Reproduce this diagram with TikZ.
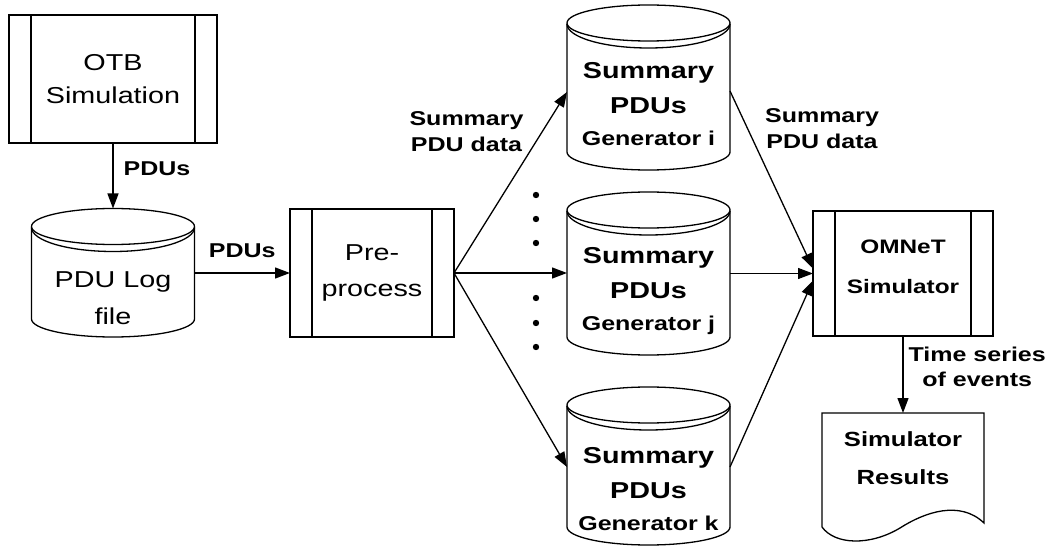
\documentclass[tikz,border=0pt]{standalone}
\usepackage{fontspec}
\setmainfont{Liberation Sans}[FakeStretch=1.25]
\usetikzlibrary{arrows.meta}

\tikzset{
  flow/.style = {-{Triangle[length=15pt, width=11pt]}},
  proc/.style = {draw, minimum width=#1, align=center, inner sep=0pt, outer sep=0pt,
    path picture = {
      \draw ([xshift=22pt]path picture bounding box.north west) -- ([xshift=22pt]path picture bounding box.south west);
      \draw ([xshift=-22pt]path picture bounding box.north east) -- ([xshift=-22pt]path picture bounding box.south east);
    }},
  store/.style = {minimum width=163pt, minimum height=#1, align=center, inner sep=0pt, outer sep=0pt},
  lbl/.style = {font=\fontsize{20}{26}\selectfont\bfseries, align=center, inner sep=2pt},
}

% cylinder round a store node: #1 node, #2 depth of the bottom below its centre
\newcommand{\drawstore}[2]{%
  \draw ([yshift=-18pt]#1.north west) -- ([yshift=18pt-#2]#1.west)
    arc[start angle=180, end angle=360, x radius=81.5pt, y radius=18pt]
    -- ([yshift=-18pt]#1.north east)
    arc[start angle=0, end angle=360, x radius=81.5pt, y radius=18pt];
  \draw ([yshift=-19pt]#1.north west)
    arc[start angle=180, end angle=360, x radius=81.5pt, y radius=24pt];
}

\begin{document}
\begin{tikzpicture}[x = 1pt, y = 1pt, line width = 1.3pt]
\useasboundingbox (0,0) rectangle (1053,-548);

\node[proc=208pt, minimum height=128pt, font=\fontsize{23}{33}\selectfont] (otb) at (113,-79) {OTB\\Simulation};
\node[store=180pt, font=\fontsize{23}{37}\selectfont] (log) at (113,-298.5) {PDU Log\\file};
\drawstore{log}{38.5pt}
\node[proc=164pt, minimum height=128pt, font=\fontsize{23}{36}\selectfont] (prep) at (372,-273) {Pre-\\process};

\node[store=198pt, font=\fontsize{23}{35}\selectfont\bfseries] (geni) at (648.5,-104) {Summary\\PDUs\\[-3pt]{\fontsize{20}{24}\selectfont Generator i}};
\drawstore{geni}{66pt}
\node[store=198pt, font=\fontsize{23}{35}\selectfont\bfseries] (genj) at (648.5,-291) {Summary\\PDUs\\[-3pt]{\fontsize{20}{24}\selectfont Generator j}};
\drawstore{genj}{64pt}
\node[store=204pt, font=\fontsize{23}{35}\selectfont\bfseries] (genk) at (648.5,-489) {Summary\\PDUs\\[-3pt]{\fontsize{20}{24}\selectfont Generator k}};
\drawstore{genk}{56pt}

\node[proc=180pt, minimum height=125pt, text depth=13pt, font=\fontsize{19.5}{40}\selectfont\bfseries] (omnet) at (903,-273.5) {OMNeT\\Simulator};
\node[minimum width=162pt, minimum height=90pt, align=center, inner sep=0pt, outer sep=0pt,
  font=\fontsize{20.5}{38}\selectfont\bfseries] (res) at (903,-458) {Simulator\\Results};
\draw (res.north west) -- (res.north east) -- (984,-523)
  .. controls (960,-500) and (925,-512) .. (900,-528)
  .. controls (870,-546) and (835,-545) .. (822,-527) -- cycle;

\foreach \y in {195,219,243,298,323,347}
  \fill (536,-\y) circle[radius=3.2pt];

\draw[flow] (otb) -- node[lbl, right=8pt, yshift=7pt]{PDUs} (log.north);
\draw[flow] (prep.west -| log.east) -- node[lbl, above=13pt]{PDUs} (prep.west);
\draw[flow] (prep.east) -- node[lbl, pos=0.78, left=16pt]{Summary\\PDU data} ([yshift=12pt]geni.west);
\draw[flow] (prep.east) -- (prep.east -| genj.west);
\draw[flow] (prep.east) -- ([yshift=22pt]genk.west);

\draw[flow] ([yshift=13pt]geni.east) -- node[lbl, pos=0.21, right=15pt]{Summary\\PDU data} ([yshift=5pt]omnet.west);
\draw[flow] (omnet.west -| genj.east) -- (omnet.west);
\draw[flow] ([yshift=22pt]genk.east) -- ([yshift=-7pt]omnet.west);
\draw[flow] (omnet) -- node[lbl, right=3pt, yshift=8pt, font=\fontsize{20}{25}\selectfont\bfseries]{Time series\\of events} (res.north);
\end{tikzpicture}
\end{document}
